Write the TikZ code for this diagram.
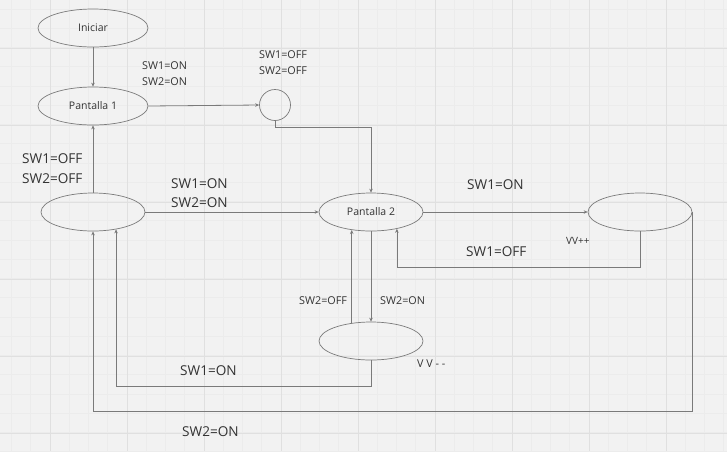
\documentclass[tikz,border=0pt]{standalone}
\usepackage{fontspec}
\setmainfont{Open Sans}
\usetikzlibrary{shapes.geometric,arrows.meta}
\definecolor{bgc}{HTML}{F2F2F2}
\definecolor{minorc}{HTML}{ECECEC}
\definecolor{majorc}{HTML}{E0E0E0}
\definecolor{linec}{HTML}{7A7A7A}
\definecolor{txtc}{HTML}{333333}
\tikzset{
  state/.style={ellipse,draw=linec,line width=0.7pt,minimum width=104pt,minimum height=38pt,inner sep=0pt,text=txtc,font=\fontsize{10.5}{12}\selectfont},
  conn/.style={draw=linec,line width=0.8pt,-{Stealth[length=4pt,width=3.5pt]}},
  small/.style={anchor=west,inner sep=0pt,text=txtc,font=\fontsize{10.8}{12}\selectfont},
  big/.style={anchor=west,inner sep=0pt,text=txtc,font=\fontsize{13.6}{15}\selectfont},
}
\begin{document}
\begin{tikzpicture}[x=1pt,y=-1pt]
\fill[bgc] (0,0) rectangle (727,451);
\useasboundingbox (0,0) rectangle (727,451);
% minor grid
\foreach \i in {0,...,38} {
  \draw[minorc,line width=0.6pt] ({11.5+19.25*\i},0) -- ({11.5+19.25*\i},451);
}
\foreach \i in {0,...,23} {
  \draw[minorc,line width=0.6pt] (0,{9+19.25*\i}) -- (727,{9+19.25*\i});
}
% major grid
\foreach \i in {0,...,9} {
  \draw[majorc,line width=0.9pt] ({-27+77*\i},0) -- ({-27+77*\i},451);
}
\foreach \i in {0,...,6} {
  \draw[majorc,line width=0.9pt] (0,{-29+77*\i}) -- (727,{-29+77*\i});
}
% states
\node[state,minimum width=110pt] (ini) at (93,28) {Iniciar};
\node[state,minimum width=110pt] (p1) at (93,106) {Pantalla 1};
\node[circle,draw=linec,line width=0.7pt,minimum size=31pt,inner sep=0pt] (c) at (275,105) {};
\node[state] (ml) at (93,212) {};
\node[state] (p2) at (371,212) {Pantalla 2};
\node[state] (r) at (640,212) {};
\node[state] (b) at (371,341) {};
% connectors
\draw[conn] (ini.south) -- (p1.north);
\draw[conn] (p1.east) -- (c.west);
\draw[conn] (c.south) |- ++(0,7) -| (p2.north);
\draw[conn] (ml.north) -- (p1.south);
\draw[conn] (ml.east) -- (p2.west);
\draw[conn] (p2.east) -- (r.west);
\draw[conn] (r.south) -- ++(0,36) -| (p2.327.7);
\draw[conn] (p2.south) -- (b.north);
\draw[conn] (b.137) -- (p2.223);
\draw[conn] (b.south) -- ++(0,26) -| (ml.323.5);
\draw[conn] (r.east) -- ++(0,199) -| (ml.south);
% labels
\node[small] (l1) at (142,66) {SW1=ON};
\node[small] (l2) at (142,82) {SW2=ON};
\node[small] (l3) at (259,55) {SW1=OFF};
\node[small] (l4) at (259,71) {SW2=OFF};
\node[big] (l5) at (22,159) {SW1=OFF};
\node[big] (l6) at (22,179) {SW2=OFF};
\node[big] (l7) at (171,184) {SW1=ON};
\node[big] (l8) at (171,203) {SW2=ON};
\node[big] (l9) at (467,185) {SW1=ON};
\node[big] (l10) at (466,252) {SW1=OFF};
\node[small,font=\fontsize{10}{12}\selectfont] (l11) at (566,241) {VV++};
\node[small] (l12) at (299,301) {SW2=OFF};
\node[small] (l13) at (380,301) {SW2=ON};
\node[small] (l14) at (417,364) {V V - -};
\node[big] (l15) at (180,371) {SW1=ON};
\node[big] (l16) at (182,432) {SW2=ON};
\end{tikzpicture}
\end{document}
